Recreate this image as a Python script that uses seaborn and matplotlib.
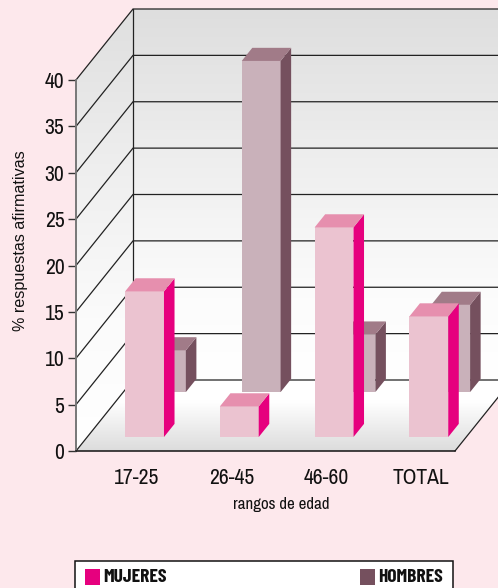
import numpy as np
import pandas as pd
import matplotlib
matplotlib.use("Agg")
import matplotlib.pyplot as plt
from matplotlib.colors import LinearSegmentedColormap
from matplotlib.patches import Polygon, Rectangle
import seaborn as sns

rangos = ["17-25", "26-45", "46-60", "TOTAL"]
mujeres = [15.7, 3.3, 22.6, 13.0]
hombres = [4.5, 35.7, 6.2, 9.4]
yticks = [0, 5, 10, 15, 20, 25, 30, 35, 40]

BG = "#fde8ec"
NARROW = ["Archivo Narrow", "Liberation Sans", "DejaVu Sans"]
NARROW_BOLD = ["Barlow Condensed", "Liberation Sans", "DejaVu Sans"]

W, H = 498, 588
sns.set_style("white")
plt.rcParams["font.family"] = NARROW

fig = plt.figure(figsize=(W / 100, H / 100), dpi=100, facecolor=BG)
ax = fig.add_axes([76 / W, 1 - 451 / H, (455 - 76) / W, (451 - 80) / H])
ax.patch.set_visible(False)

XLIM = (-0.644, 3.356)
YLIM = (0, 40)
# oblique projection: full floor depth expressed in data units
DX = 57 / 94.75
DY = 71 / 9.275


def proj(x, y, d):
    return (x + DX * d, y + DY * d)


def gradient(verts, stops, y0, y1, z):
    """Fill a polygon with a vertical gradient running from y0 up to y1."""
    cmap = LinearSegmentedColormap.from_list("g", stops)
    xs = [v[0] for v in verts]
    im = ax.imshow(np.linspace(0, 1, 256)[:, None], cmap=cmap, origin="lower",
                   extent=(min(xs), max(xs), y0, y1), aspect="auto", zorder=z,
                   vmin=0, vmax=1, interpolation="bilinear")
    im.set_clip_box(fig.bbox)
    clip = Polygon(verts, closed=True, transform=ax.transData, fc="none", ec="none")
    im.set_clip_path(clip)


xL, xR = XLIM
wall_stops = [(0.0, "#ffffff"), (0.22, "#fcfcfc"), (0.6, "#eeeeee"), (1.0, "#dedede")]
# room surfaces
gradient([proj(xL, 0, 1), proj(xR, 0, 1), proj(xR, 40, 1), proj(xL, 40, 1)],
         wall_stops, DY, 40 + DY, 0)
gradient([proj(xL, 0, 0), proj(xL, 0, 1), proj(xL, 40, 1), proj(xL, 40, 0)],
         [(0.0, "#ffffff"), (0.3, "#fbfbfb"), (0.65, "#eeeeee"), (1.0, "#dfdfdf")],
         0, 40 + DY, 0)
gradient([proj(xL, 0, 0), proj(xR, 0, 0), proj(xR, 0, 1), proj(xL, 0, 1)],
         [(0.0, "#dcdcdc"), (0.7, "#ffffff"), (1.0, "#ffffff")], 0, DY, 0)

# grid lines on the back and side walls
for v in yticks:
    ax.plot(*zip(proj(xL, v, 0), proj(xL, v, 1), proj(xR, v, 1)),
            color="#222222", lw=0.9, clip_on=False, zorder=1,
            solid_joinstyle="miter")
ax.plot(*zip(proj(xL, 0, 1), proj(xL, 40, 1)), color="#222222", lw=0.9,
        clip_on=False, zorder=1)
ax.plot(*zip(proj(xR, 0, 0), proj(xR, 0, 1)), color="#222222", lw=0.9,
        clip_on=False, zorder=1)


def bars(values, offset, depth, thick, front, top, side, z):
    n = len(ax.containers)
    sns.barplot(x=np.arange(len(values)) + offset, y=values, native_scale=True,
                width=0.41, color=front, saturation=1, ax=ax, zorder=z,
                linewidth=0, legend=False)
    for bar in ax.containers[n]:
        x0, w, h = bar.get_x(), bar.get_width(), bar.get_height()
        bar.set_xy(proj(x0, 0, depth))
        bar.set_clip_on(False)
        x1 = x0 + w
        ax.add_patch(Polygon([proj(x1, 0, depth), proj(x1, 0, depth + thick),
                              proj(x1, h, depth + thick), proj(x1, h, depth)],
                             fc=side, ec="none", zorder=z, clip_on=False))
        ax.add_patch(Polygon([proj(x0, h, depth), proj(x1, h, depth),
                              proj(x1, h, depth + thick), proj(x0, h, depth + thick)],
                             fc=top, ec="none", zorder=z, clip_on=False))


bars(hombres, -0.189, 0.83, 0.185, "#c9b1ba", "#a17b88", "#75505e", 2)
bars(mujeres, -0.039, 0.197, 0.185, "#ebc3d0", "#e68fae", "#e6007e", 3)

ax.set_xlim(XLIM)
ax.set_ylim(YLIM)
sns.despine(ax=ax, top=True, right=True)
ax.spines["left"].set_color("#777777")
ax.spines["left"].set_linewidth(1.4)
ax.spines["left"].set_zorder(1.5)
ax.spines["bottom"].set_color("#111111")
ax.spines["bottom"].set_linewidth(1.1)
ax.spines["bottom"].set_zorder(1.5)

ax.set_yticks(yticks)
ax.set_xticks(range(len(rangos)))
ax.set_xticklabels(rangos)
ax.tick_params(axis="y", left=True, length=5.8, width=1.0, color="#333333",
               labelsize=15.5, pad=2.5, labelcolor="#111111")
ax.tick_params(axis="x", bottom=False, labelsize=15.5, pad=8.5, labelcolor="#111111")

ax.set_xlabel("rangos de edad", fontsize=12.2, color="#111111")
ax.xaxis.set_label_coords((281 - 76) / 379, -(504 - 451) / 371, transform=ax.transAxes)
ax.xaxis.label.set_va("center")
ax.set_ylabel("% respuestas afirmativas", fontsize=11.6, color="#111111",
              family=["Liberation Sans", "DejaVu Sans"])
ax.yaxis.set_label_coords((21 - 76) / 379, (451 - 241) / 371, transform=ax.transAxes)
ax.yaxis.label.set_va("center")

# key box along the bottom edge
fig.add_artist(Rectangle((74.5 / W, -0.01), 378 / W, 1 - 561 / H + 0.01,
                         transform=fig.transFigure, fc="white", ec="#111111", lw=1.1))
for label, color, x_sq in (("MUJERES", "#e6007e", 85), ("HOMBRES", "#75505e", 360)):
    fig.add_artist(Rectangle((x_sq / W, 1 - 585 / H), 14.5 / W, 16 / H,
                             transform=fig.transFigure, fc=color, ec="none"))
    fig.text((x_sq + 18) / W, 1 - 577.5 / H, label, fontsize=14, fontweight="bold",
             family=NARROW_BOLD, va="center", ha="left", color="#111111")

fig.savefig("out.png", dpi=100, facecolor=BG)
